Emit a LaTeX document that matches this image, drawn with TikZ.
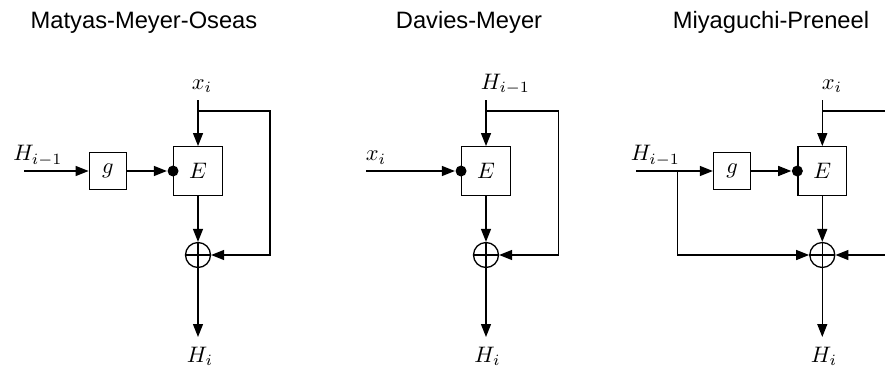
\documentclass[tikz,border=0pt]{standalone}
\usepackage{fontspec}
\usepackage{graphicx}
\usetikzlibrary{arrows.meta}
\newfontfamily\ttlfont{Liberation Sans}
\newcommand{\mlab}[1]{\scalebox{2.25}{$#1$}}
\tikzset{
  ebox/.style={draw, minimum size=48.6bp, inner sep=0pt},
  gbox/.style={draw, minimum size=37bp, inner sep=0pt},
  xorc/.style={circle, draw, minimum size=25bp, inner sep=0pt},
  dotn/.style={circle, fill, minimum size=11bp, inner sep=0pt},
  lbl/.style={inner sep=0pt, anchor=base},
  ttl/.style={inner sep=0pt, anchor=base, font=\ttlfont\fontsize{23.7bp}{28bp}\selectfont},
  arr/.style={-{Triangle[length=13bp,width=10bp]}}
}
\newcommand{\xorplus}[1]{\draw (#1.north) -- (#1.south) (#1.west) -- (#1.east);}
\begin{document}
\begin{tikzpicture}[x=1bp,y=-1bp,line width=1.3bp]
\useasboundingbox (0,0) rectangle (885,369);
\clip (0,0) rectangle (885,369);
% ---------- Panel 1: Matyas-Meyer-Oseas
\node[ttl] (t1) at (144,28.3) {Matyas-Meyer-Oseas};
\node[lbl] (x1) at (202,89.3) {\mlab{x_i}};
\coordinate (top1) at (198,100);
\coordinate (br1) at (198,111);
\coordinate (fb1) at (270,111);
\coordinate (fc1) at (270,255);
\node[ebox] (E1) at (198,171) {\mlab{E}};
\node[gbox] (g1) at (107.8,171) {\mlab{g}};
\node[dotn] (d1) at (E1.west) {};
\node[lbl] (h1) at (37.8,160.7) {\mlab{H_{i-1}}};
\coordinate (in1) at (24,171);
\node[xorc] (X1) at (198,255) {};
\xorplus{X1}
\coordinate (out1) at (198,337);
\node[lbl] (o1) at (200,362) {\mlab{H_i}};
\draw[arr] (top1) -- (E1.north);
\draw[arr] (br1) -- (fb1) -- (fc1) -- (X1.east);
\draw[arr] (in1) -- (g1.west);
\draw[arr] (g1.east) -- (d1.west);
\draw[arr] (E1.south) -- (X1.north);
\draw[arr] (X1.south) -- (out1);
% ---------- Panel 2: Davies-Meyer
\node[ttl] (t2) at (469,28.3) {Davies-Meyer};
\node[lbl] (h2) at (505.5,89.3) {\mlab{H_{i-1}}};
\coordinate (top2) at (486,100);
\coordinate (br2) at (486,111);
\coordinate (fb2) at (558.3,111);
\coordinate (fc2) at (558.3,255);
\node[ebox] (E2) at (486,171) {\mlab{E}};
\node[dotn] (d2) at (E2.west) {};
\node[lbl] (x2) at (376,160.7) {\mlab{x_i}};
\coordinate (in2) at (366,171);
\node[xorc] (X2) at (486,255) {};
\xorplus{X2}
\coordinate (out2) at (486,337);
\node[lbl] (o2) at (487.5,362) {\mlab{H_i}};
\draw[arr] (top2) -- (E2.north);
\draw[arr] (br2) -- (fb2) -- (fc2) -- (X2.east);
\draw[arr] (in2) -- (d2.west);
\draw[arr] (E2.south) -- (X2.north);
\draw[arr] (X2.south) -- (out2);
% ---------- Panel 3: Miyaguchi-Preneel
\node[ttl] (t3) at (771,28.3) {Miyaguchi-Preneel};
\node[lbl] (x3) at (832,89.3) {\mlab{x_i}};
\coordinate (top3) at (822.3,100);
\coordinate (br3) at (822.3,111);
\coordinate (fb3) at (894,111);
\coordinate (fc3) at (894,255);
\node[ebox] (E3) at (822.3,171) {\mlab{E}};
\node[gbox] (g3) at (732,171) {\mlab{g}};
\node[dotn] (d3) at (E3.west) {};
\node[lbl] (h3) at (655.3,160.7) {\mlab{H_{i-1}}};
\coordinate (in3) at (636,171);
\coordinate (sp3) at (677.7,171);
\coordinate (sq3) at (677.7,255);
\node[xorc] (X3) at (822.3,255) {};
\xorplus{X3}
\coordinate (out3) at (822.3,337);
\node[lbl] (o3) at (824,362) {\mlab{H_i}};
\draw[arr] (top3) -- (E3.north);
\draw[arr] (br3) -- (fb3) -- (fc3) -- (X3.east);
\draw[arr] (in3) -- (g3.west);
\draw[arr] (sp3) -- (sq3) -- (X3.west);
\draw[arr] (g3.east) -- (d3.west);
\draw[arr] (E3.south) -- (X3.north);
\draw[arr] (X3.south) -- (out3);
\end{tikzpicture}
\end{document}
